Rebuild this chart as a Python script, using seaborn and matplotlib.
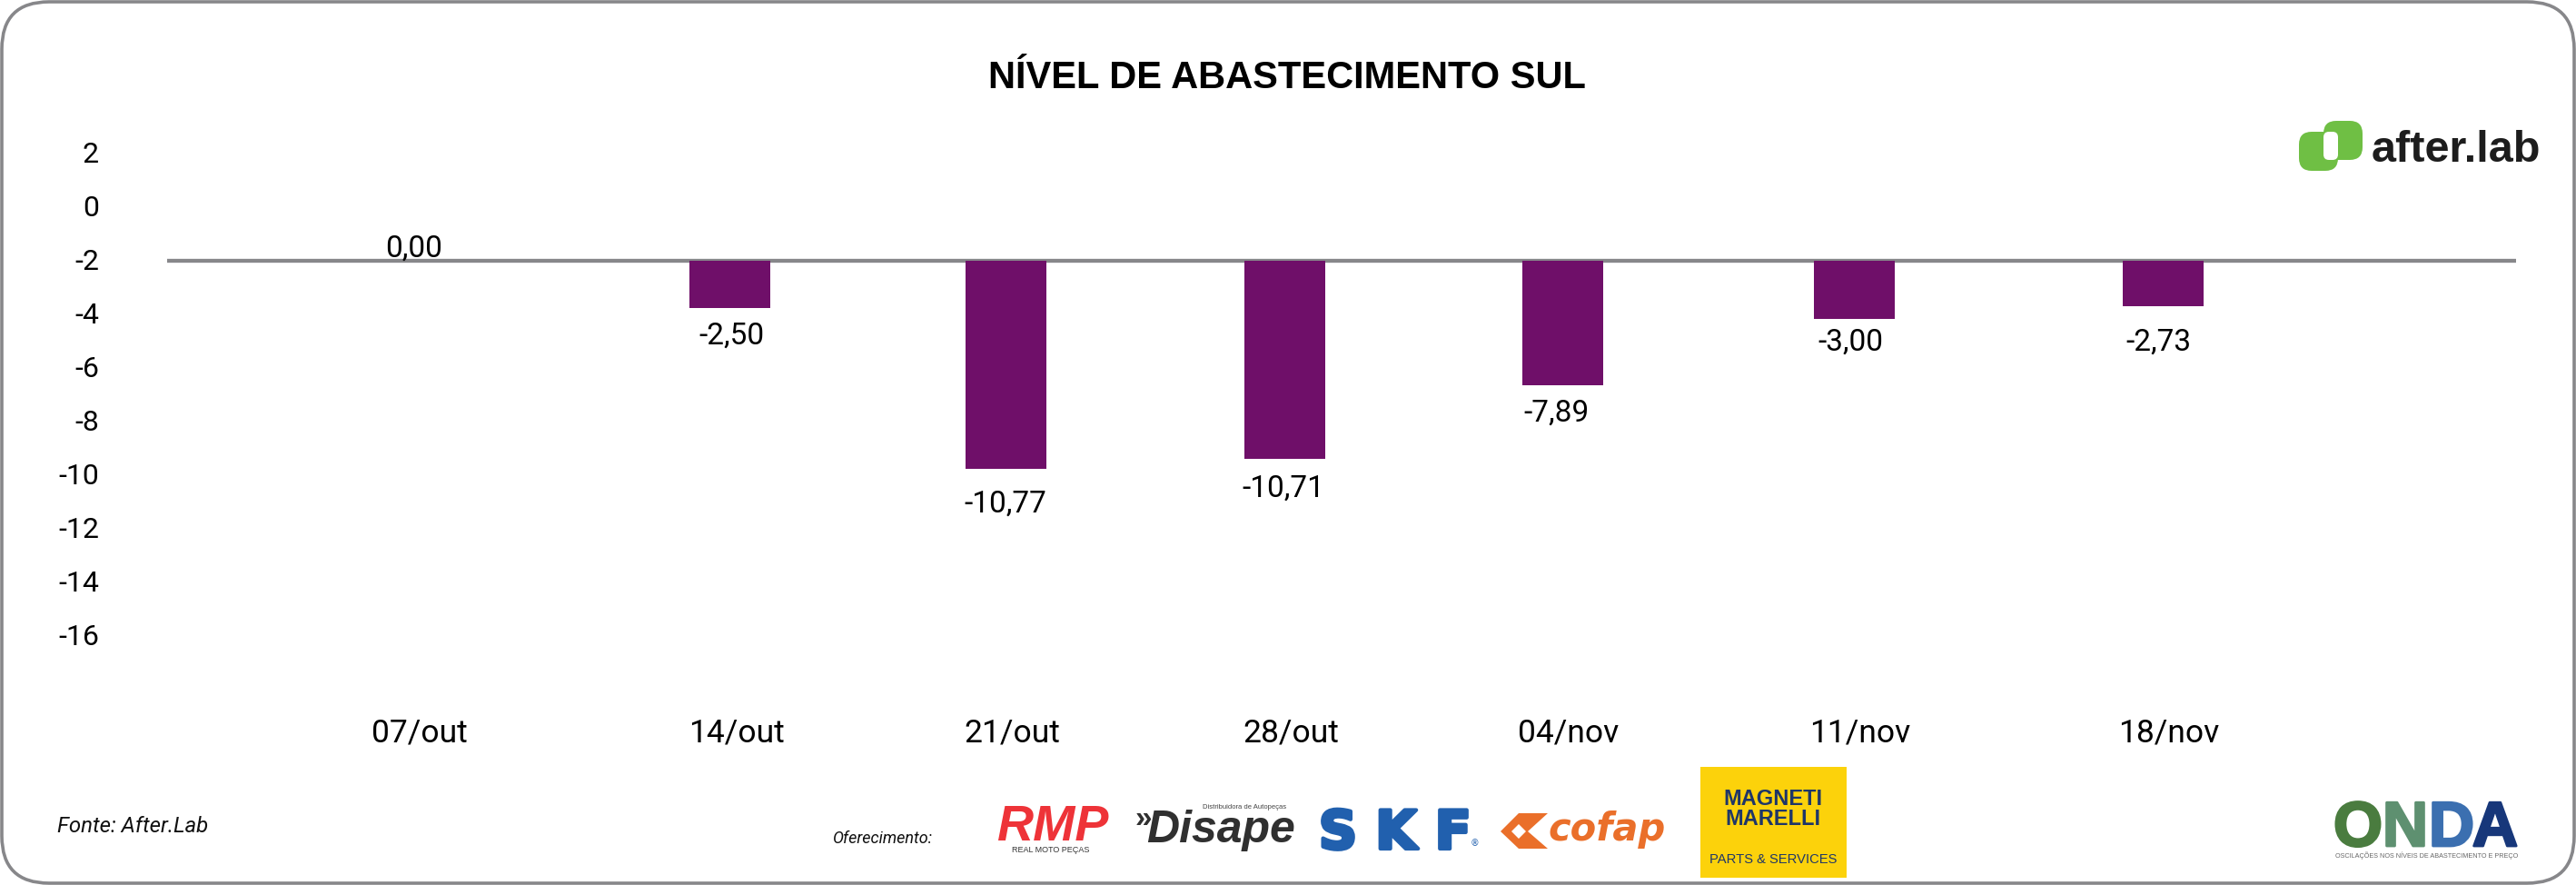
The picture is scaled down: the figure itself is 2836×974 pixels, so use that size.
import numpy as np
import pandas as pd
import matplotlib
matplotlib.use("Agg")
import matplotlib.pyplot as plt
import matplotlib.patheffects as pe
import matplotlib.transforms as mtrans
from matplotlib.patches import FancyBboxPatch, Polygon, Rectangle
import seaborn as sns

# Data
weeks = ["07/out", "14/out", "21/out", "28/out", "04/nov", "11/nov", "18/nov"]
# the week slots are not evenly spaced in the original
week_slot = [0.0, 1.139, 2.131, 3.134, 4.134, 5.183, 6.294]
# bar length below the -2 base line, in y axis units
bar_drop = [0.0, -1.76, -7.75, -7.38, -4.64, -2.17, -1.69]
printed_values = ["0,00", "-2,50", "-10,77", "-10,71", "-7,89", "-3,00", "-2,73"]
y_ticks = [2, 0, -2, -4, -6, -8, -10, -12, -14, -16]

BASE = -2
PURPLE = "#6f0f69"
GREY = "#87878a"
W, H = 2836, 974

sns.set_theme(style="white")
plt.rcParams["font.family"] = ["Roboto", "DejaVu Sans"]

fig = plt.figure(figsize=(W / 100, H / 100), dpi=100, facecolor="white")

# Main chart axes, x 184-2770 px, y 139.6-760 px
ax = fig.add_axes([184 / W, 1 - 760 / H, (2770 - 184) / W, (760 - 139.6) / H])
df = pd.DataFrame({"slot": week_slot, "drop": bar_drop})
sns.barplot(data=df, x="slot", y="drop", native_scale=True, color=PURPLE, saturation=1,
            width=0.2933, bottom=BASE, errorbar=None, ax=ax, zorder=3, linewidth=0)
ax.axhline(BASE, color=GREY, lw=3.1, zorder=2)
ax.set_xlim(-0.886, 7.565)
ax.set_ylim(-18, 3)
ax.set_xlabel("")
ax.set_ylabel("")
sns.despine(ax=ax, left=True, bottom=True)

ax.set_yticks(y_ticks, [str(t) for t in y_ticks])
ax.set_xticks(week_slot, weeks)
ax.tick_params(axis="y", length=0, pad=54, labelsize=23, labelcolor="black")
ax.tick_params(axis="x", length=0, pad=22, labelsize=25.5, labelcolor="black")
shift_x = mtrans.ScaledTranslation(7 / 100, 0, fig.dpi_scale_trans)
for t in ax.get_xticklabels():
    t.set_transform(t.get_transform() + shift_x)
shift_y = mtrans.ScaledTranslation(0, 2 / 100, fig.dpi_scale_trans)
for t in ax.get_yticklabels():
    t.set_transform(t.get_transform() + shift_y)

# Value labels, hand placed in the original (offsets in px from the bar end)
label_dx = [0, 1.5, 0, -1, -7, -4, -5]
label_dy = [14, -30, -38, -32, -30, -25, -39]
for i, txt in enumerate(printed_values):
    ax.annotate(txt, xy=(week_slot[i], BASE + bar_drop[i]),
                xytext=(label_dx[i] * 0.72, label_dy[i] * 0.72), textcoords="offset points",
                ha="center", va="center", fontsize=24, color="black", zorder=4)

# Overlay in pixel coordinates for frame, title, footer and logos
ov = fig.add_axes([0, 0, 1, 1], facecolor="none")
ov.set_xlim(0, W)
ov.set_ylim(H, 0)
ov.axis("off")

ov.add_patch(FancyBboxPatch((2, 2), W - 4, H - 4, boxstyle="round,pad=0,rounding_size=52",
                            fc="none", ec=GREY, lw=2.6))
ov.text(1417, 86, "NÍVEL DE ABASTECIMENTO SUL", family="Liberation Sans", weight="bold",
        fontsize=30, ha="center", va="center", color="black")
ov.text(63, 909, "Fonte: After.Lab", style="italic", fontsize=17.3, va="center", color="#111111")
ov.text(917, 923, "Oferecimento:", style="italic", fontsize=13, va="center", color="#111111")

# after.lab logo
GREEN = "#6fbf44"
ov.add_patch(FancyBboxPatch((2558, 133), 43, 43, boxstyle="round,pad=0,rounding_size=14", fc=GREEN, ec="none"))
ov.add_patch(FancyBboxPatch((2531, 145), 43, 43, boxstyle="round,pad=0,rounding_size=14", fc=GREEN, ec="none"))
ov.add_patch(FancyBboxPatch((2558, 145), 16, 31, boxstyle="round,pad=0,rounding_size=6", fc="white", ec="none"))
ov.text(2611, 178, "after.lab", family="Liberation Sans", weight="bold", fontsize=35, ha="left",
        va="baseline", color="#1d1d1d")

# sponsor logos, set as plain text
ov.text(1159, 925, "RMP", family="Liberation Sans", weight="bold", style="italic", fontsize=40,
        ha="center", va="baseline", color="#ee3338")
ov.text(1157, 935, "REAL MOTO PEÇAS", family="Liberation Sans", fontsize=6.5, ha="center", va="center",
        color="#333333")
ov.text(1259, 901, "»", family="Liberation Sans", weight="bold", fontsize=24, ha="center", va="center",
        color="#303030")
ov.text(1344, 927, "Disape", family="Liberation Sans", weight="bold", style="italic", fontsize=36,
        ha="center", va="baseline", color="#303030")
ov.text(1370, 889, "Distribuidora de Autopeças", family="Liberation Sans", fontsize=5.5, ha="center",
        va="center", color="#444444")
ov.text(1536, 934, "S K F", family="DejaVu Sans", weight="bold", fontsize=42, ha="center", va="baseline",
        color="#2160ae", path_effects=[pe.withStroke(linewidth=3, foreground="#2160ae")])
ov.text(1624, 928, "®", family="DejaVu Sans", fontsize=7, ha="center", va="center", color="#2160ae")

ORANGE = "#ea6f2a"
ov.add_patch(Polygon([(1652, 915), (1672, 895), (1704, 895), (1682, 915), (1704, 934), (1672, 934)],
                     closed=True, fc=ORANGE, ec="none"))
ov.add_patch(Polygon([(1664, 915), (1672, 907), (1680, 915), (1672, 923)], closed=True, fc="white", ec="none"))
ov.text(1769, 925, "cofap", family="DejaVu Sans", weight="bold", style="italic", fontsize=30,
        ha="center", va="baseline", color=ORANGE)

ov.add_patch(Rectangle((1872, 844), 161, 122, fc="#fcd20b", ec="none"))
NAVY = "#1f3668"
ov.text(1952, 880, "MAGNETI", family="Liberation Sans", weight="bold", fontsize=17, ha="center",
        va="center", color=NAVY)
ov.text(1952, 902, "MARELLI", family="Liberation Sans", weight="bold", fontsize=17, ha="center",
        va="center", color=NAVY)
ov.text(1952, 946, "PARTS & SERVICES", family="Liberation Sans", fontsize=10.6, ha="center",
        va="center", color=NAVY)

# ONDA logo, one colour per letter in place of the photo fill
for letter, cx, col in zip("ONDA", [2596, 2648, 2699, 2747], ["#4a7c3f", "#5e9070", "#3b6fb0", "#17377a"]):
    ov.text(cx, 931, letter, family="Liberation Sans", weight="bold", fontsize=50, ha="center", va="baseline",
            color=col, path_effects=[pe.withStroke(linewidth=2, foreground=col)])
ov.text(2672, 942, "OSCILAÇÕES NOS NÍVEIS DE ABASTECIMENTO E PREÇO", family="Liberation Sans",
        fontsize=5.2, ha="center", va="center", color="#666666")

fig.savefig("out.png", dpi=100)
